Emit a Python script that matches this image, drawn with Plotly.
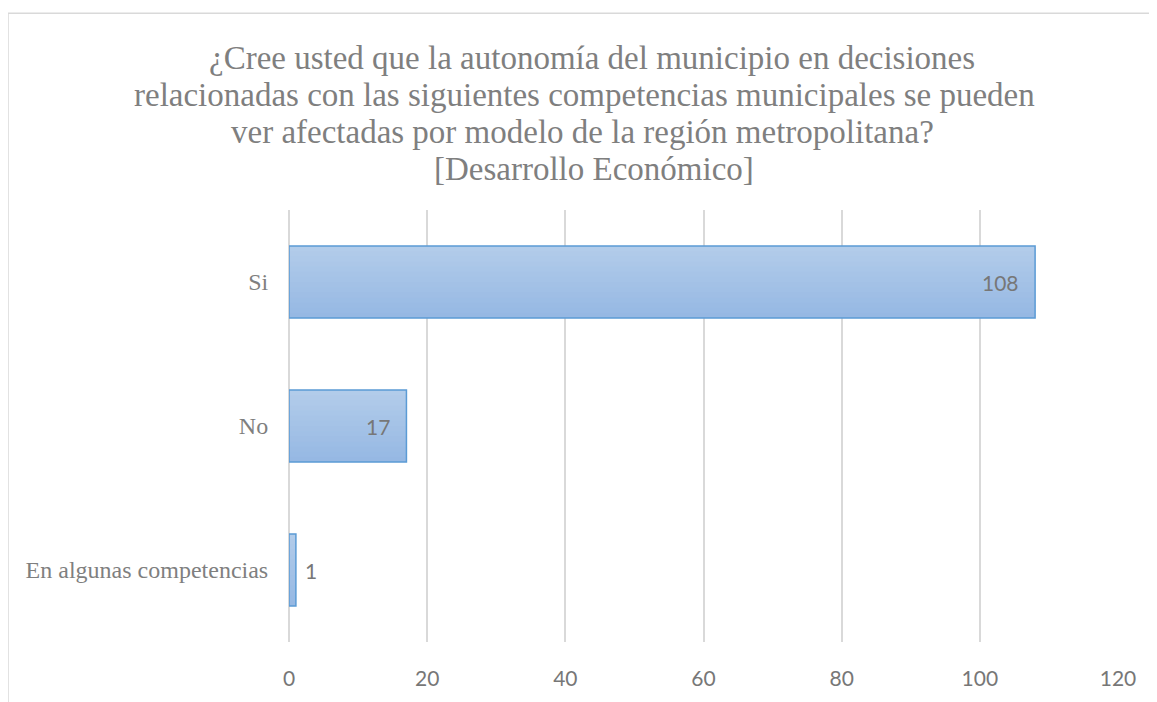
import plotly.graph_objects as go

categories = ["En algunas competencias", "No", "Si"]
values = [1, 17, 108]
x_ticks = [0, 20, 40, 60, 80, 100, 120]
title_lines = [
    "¿Cree usted que la autonomía del municipio en decisiones",
    "relacionadas con las siguientes competencias municipales se pueden",
    "ver afectadas por modelo de la región metropolitana?",
    "[Desarrollo Económico]",
]

# page has an 8px body margin; work in figure pixels
OFF = 8
W, H = 1157 - OFF, 702 - OFF
ML, MT = 289 - OFF, 210 - OFF
PR, PB = 1118 - OFF, 647 - OFF
MR, MB = W - PR, H - PB
pw, ph = PR - ML, PB - MT

def px_x(px):
    return (px - OFF - ML) / pw

def px_y(py):
    return (PB - (py - OFF)) / ph

SERIF = "Liberation Serif, Times New Roman, serif"
SANS = "Lato"

BAR_W = 0.5
TOP_RGB = (178, 204, 234)
BOT_RGB = (150, 184, 227)
N_STRIPS = 14

fig = go.Figure()
sw = BAR_W / N_STRIPS
for i in range(N_STRIPS):
    t = i / (N_STRIPS - 1)
    rgb = tuple(round(b + (a - b) * t) for a, b in zip(TOP_RGB, BOT_RGB))
    extra = 0 if i == N_STRIPS - 1 else sw * 0.6
    fig.add_trace(go.Bar(
        y=categories, x=values, orientation="h",
        width=sw + extra, offset=-BAR_W / 2 + i * sw,
        marker=dict(color="rgb(%d,%d,%d)" % rgb, line=dict(width=0)),
        hoverinfo="skip",
    ))
fig.add_trace(go.Bar(
    y=categories, x=values, orientation="h", width=BAR_W,
    marker=dict(color="rgba(0,0,0,0)", line=dict(color="#5b9bd5", width=1.5)),
    hoverinfo="skip",
))

anns = []
for c, v in zip(categories, values):
    inside = v > 5
    anns.append(dict(
        x=v, y=c, xref="x", yref="y", text=str(v), showarrow=False,
        xanchor="right" if inside else "left",
        xshift=-14 if inside else 7,
        font=dict(family=SANS, size=21, color="#777777"),
    ))

# title: one annotation per line (screen-pixel centre positions)
title_x = [592, 584, 582, 594]
title_y = [56, 94, 131, 169]
for line, tx, ty in zip(title_lines, title_x, title_y):
    anns.append(dict(
        text=line, showarrow=False,
        xref="paper", yref="paper", x=px_x(tx), y=px_y(ty),
        xanchor="center", yanchor="middle", align="center",
        font=dict(family=SERIF, size=33, color="#7f7f7f"),
    ))

fig.update_layout(
    width=W, height=H,
    margin=dict(l=ML, r=MR, t=MT, b=MB),
    paper_bgcolor="white", plot_bgcolor="white",
    showlegend=False, barmode="overlay",
    xaxis=dict(
        range=[0, 120], tickvals=x_ticks, showgrid=True, gridcolor="#d9d9d9", gridwidth=1.5,
        zeroline=True, zerolinecolor="#d9d9d9", zerolinewidth=1.5,
        showline=False, ticks="outside", ticklen=18, tickcolor="rgba(0,0,0,0)",
        tickfont=dict(family=SANS, size=21, color="#777777"),
        fixedrange=True,
    ),
    yaxis=dict(
        categoryorder="array", categoryarray=categories, range=[-0.5, 2.5],
        showgrid=False, zeroline=False, showline=False,
        ticks="outside", ticklen=15, tickcolor="rgba(0,0,0,0)",
        tickfont=dict(family=SERIF, size=24, color="#7f7f7f"),
        fixedrange=True,
    ),
    annotations=anns,
    shapes=[
        dict(type="line", xref="paper", yref="paper", x0=px_x(8), x1=px_x(8),
             y0=px_y(11), y1=px_y(702 + 20), line=dict(color="#d9d9d9", width=1.5)),
        dict(type="line", xref="paper", yref="paper", x0=px_x(8), x1=px_x(1157 + 20),
             y0=px_y(11), y1=px_y(11), line=dict(color="#d9d9d9", width=1.5)),
    ],
)

fig.write_html("out.html", config={"displayModeBar": False})
